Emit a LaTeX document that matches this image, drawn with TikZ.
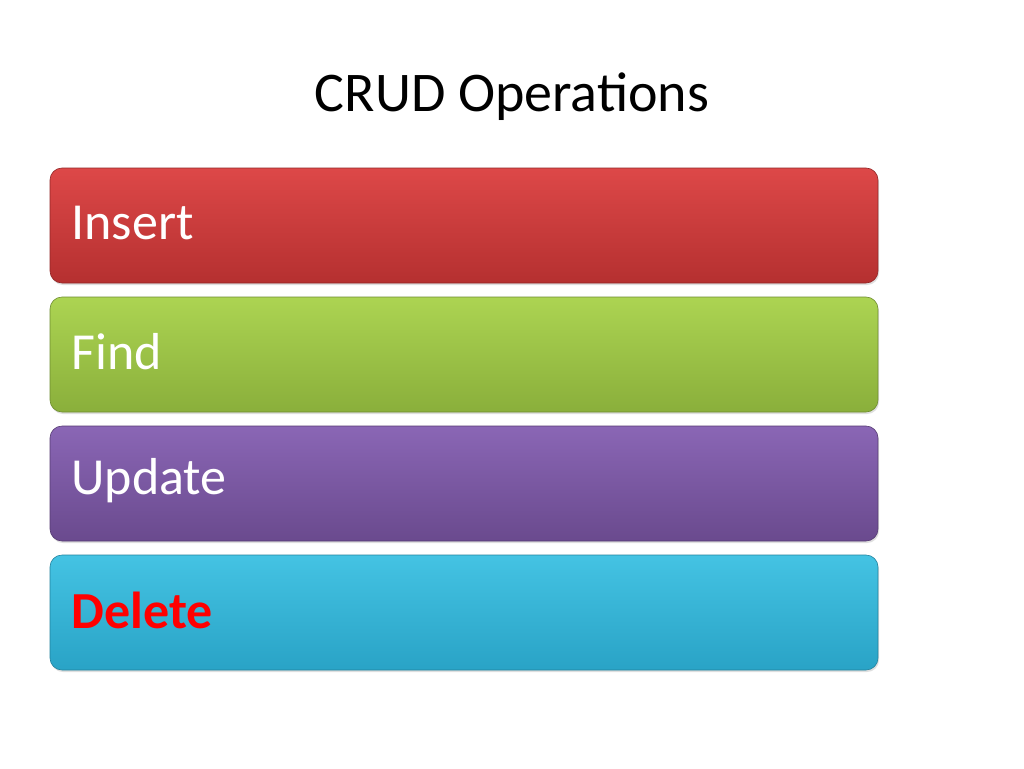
\documentclass[tikz,border=0pt]{standalone}
\usepackage{fontspec}
\setmainfont{Carlito}
\definecolor{rT}{HTML}{DD4848}\definecolor{rB}{HTML}{B53030}
\definecolor{gT}{HTML}{ACD452}\definecolor{gB}{HTML}{8AAF3B}
\definecolor{pT}{HTML}{8A66B5}\definecolor{pB}{HTML}{6A4A8E}
\definecolor{cT}{HTML}{44C3E3}\definecolor{cB}{HTML}{29A3C6}
\tikzset{
 bar/.style n args={2}{rounded corners=12pt, minimum width=828pt, minimum height=115pt,
   top color=#1, bottom color=#2, draw=#2!80!black, line width=0.6pt,
   drop shadow={opacity=0.25,shadow xshift=1pt,shadow yshift=-2pt}},
 lbl/.style={anchor=west, font=\fontsize{52}{60}\selectfont, text=white}
}
\usetikzlibrary{shadows}
\begin{document}
\begin{tikzpicture}[x=1pt,y=-1pt]
\useasboundingbox[fill=white] (0,0) rectangle (1024,768);
\node (title) at (512,97) {\fontsize{56}{64}\selectfont CRUD Operations};
\node[bar={rT}{rB}] (b1) at (464,225.5) {};
\node[bar={gT}{gB}] (b2) at (464,354.5) {};
\node[bar={pT}{pB}] (b3) at (464,483.5) {};
\node[bar={cT}{cB}] (b4) at (464,612.5) {};
\node[lbl] (t1) at (68,223) {Insert};
\node[lbl] (t2) at (68,352) {Find};
\node[lbl] (t3) at (68,481) {Update};
\node[lbl, text={rgb,255:red,255;green,0;blue,0}, font=\fontsize{52}{60}\selectfont\bfseries] (t4) at (68,610) {Delete};
\end{tikzpicture}
\end{document}
